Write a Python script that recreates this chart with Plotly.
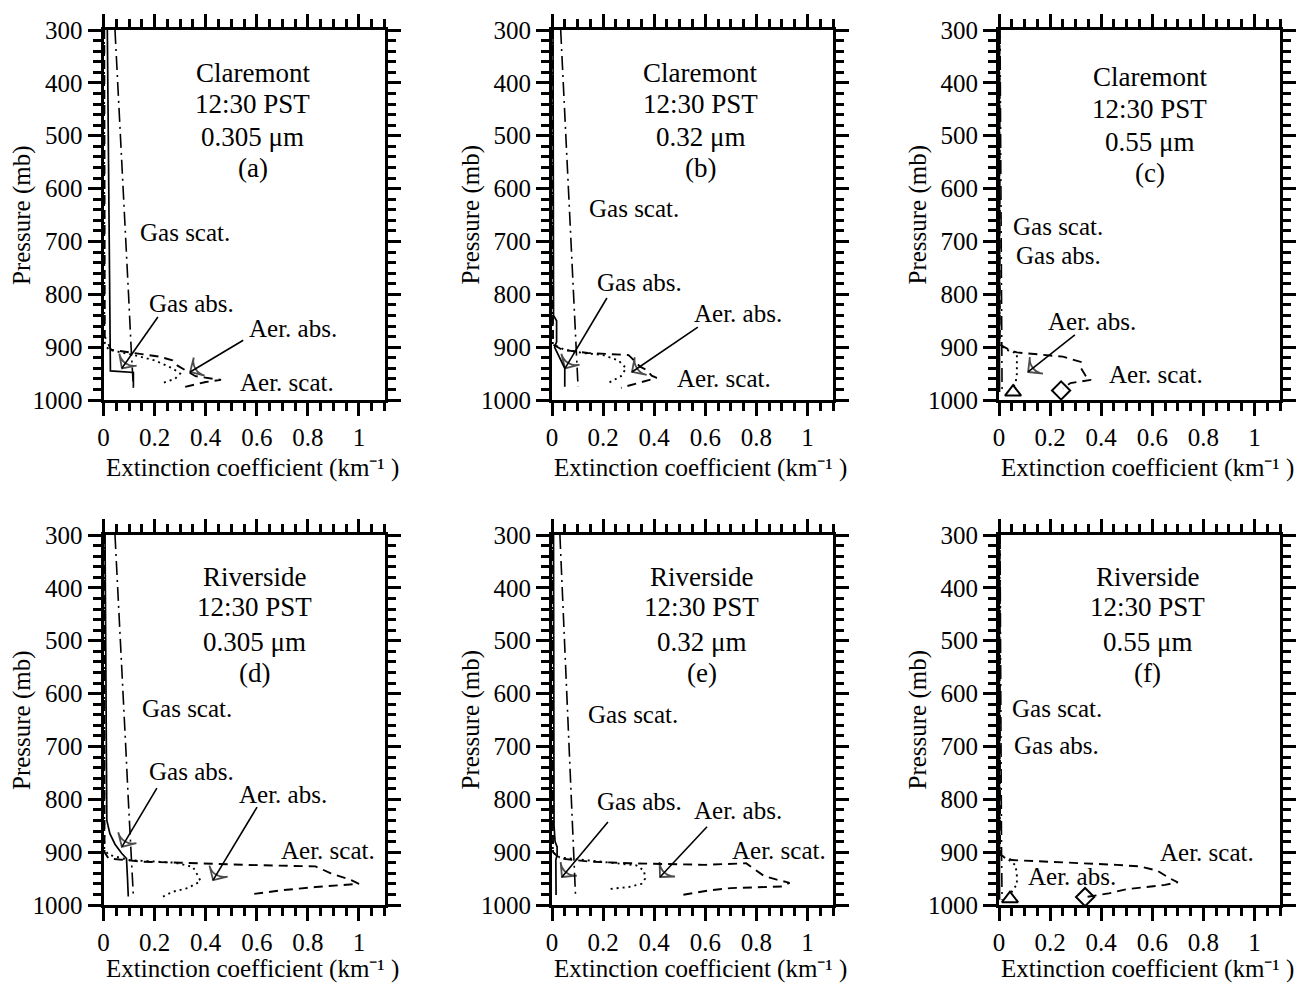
import plotly.graph_objects as go

# ---------------- data (extinction coefficient km^-1 vs pressure mb) ----------------
# Panel (a) Claremont 0.305 um
a_gscat_p = [300, 400, 500, 600, 700, 800, 900, 977]
a_gscat_x = [0.045, 0.056, 0.067, 0.077, 0.088, 0.098, 0.108, 0.117]
a_gabs_p = [300, 500, 700, 900, 945, 948, 975]
a_gabs_x = [0.015, 0.018, 0.021, 0.025, 0.027, 0.117, 0.117]
a_ascat_p = [300, 880, 905, 912, 918, 925, 935, 955, 962, 966, 975, 981]
a_ascat_x = [0.003, 0.005, 0.03, 0.13, 0.22, 0.27, 0.29, 0.36, 0.46, 0.40, 0.32, 0.30]
a_aabs_p = [300, 890, 905, 915, 925, 940, 950, 960, 968]
a_aabs_x = [0.002, 0.003, 0.02, 0.12, 0.2, 0.27, 0.30, 0.28, 0.23]

# Panel (b) Claremont 0.32 um
b_gscat_p = [300, 400, 500, 600, 700, 800, 900, 975]
b_gscat_x = [0.034, 0.044, 0.054, 0.064, 0.074, 0.084, 0.094, 0.102]
b_gabs_p = [300, 840, 850, 890, 900, 930, 940, 975]
b_gabs_x = [0.004, 0.006, 0.018, 0.018, 0.010, 0.040, 0.050, 0.050]
b_ascat_p = [300, 895, 905, 911, 915, 925, 937, 943, 954, 958, 965, 972, 977]
b_ascat_x = [0.003, 0.004, 0.04, 0.14, 0.30, 0.32, 0.345, 0.37, 0.39, 0.41, 0.36, 0.31, 0.27]
b_aabs_p = [300, 895, 905, 911, 915, 925, 940, 955, 968]
b_aabs_x = [0.002, 0.003, 0.05, 0.12, 0.20, 0.26, 0.29, 0.27, 0.22]

# Panel (c) Claremont 0.55 um
c_gscat_p = [300, 600, 900, 985]
c_gscat_x = [0.004, 0.007, 0.011, 0.012]
c_gabs_p = [300, 600, 900, 985]
c_gabs_x = [0.001, 0.0015, 0.002, 0.002]
c_ascat_p = [300, 895, 905, 910, 918, 928, 939, 955, 962, 968, 978]
c_ascat_x = [0.002, 0.003, 0.04, 0.07, 0.25, 0.32, 0.32, 0.34, 0.36, 0.28, 0.25]
c_aabs_p = [300, 895, 905, 912, 930, 950, 968, 980]
c_aabs_x = [0.001, 0.002, 0.03, 0.07, 0.07, 0.07, 0.065, 0.05]
c_meas_scat = (0.243, 982)
c_meas_abs = (0.055, 985)

# Panel (d) Riverside 0.305 um
d_gscat_p = [300, 400, 500, 600, 700, 800, 900, 984]
d_gscat_x = [0.045, 0.056, 0.066, 0.077, 0.087, 0.097, 0.108, 0.117]
d_gabs_p = [300, 500, 700, 800, 840, 865, 885, 902, 912, 950, 984]
d_gabs_x = [0.006, 0.008, 0.010, 0.011, 0.013, 0.025, 0.045, 0.071, 0.090, 0.094, 0.097]
d_ascat_p = [300, 900, 912, 918, 920, 924, 927, 940, 953, 960, 966, 972, 979]
d_ascat_x = [0.003, 0.004, 0.02, 0.15, 0.30, 0.55, 0.83, 0.89, 0.97, 1.0, 0.83, 0.70, 0.59]
d_aabs_p = [300, 895, 905, 915, 920, 928, 945, 955, 968, 975, 985]
d_aabs_x = [0.002, 0.003, 0.02, 0.10, 0.28, 0.35, 0.37, 0.38, 0.33, 0.27, 0.23]

# Panel (e) Riverside 0.32 um
e_gscat_p = [300, 400, 500, 600, 700, 800, 900, 981]
e_gscat_x = [0.031, 0.040, 0.049, 0.058, 0.068, 0.077, 0.086, 0.092]
e_gabs_p = [300, 600, 850, 880, 890, 905, 915, 981]
e_gabs_x = [0.006, 0.007, 0.008, 0.012, 0.020, 0.020, 0.015, 0.016]
e_ascat_p = [300, 900, 912, 918, 921, 924, 921, 935, 945, 952, 958, 965, 968, 972, 981]
e_ascat_x = [0.003, 0.004, 0.03, 0.15, 0.30, 0.60, 0.76, 0.80, 0.83, 0.88, 0.93, 0.90, 0.70, 0.62, 0.51]
e_aabs_p = [300, 900, 910, 918, 925, 935, 950, 960, 966, 970]
e_aabs_x = [0.002, 0.003, 0.03, 0.18, 0.33, 0.36, 0.365, 0.35, 0.30, 0.22]

# Panel (f) Riverside 0.55 um
f_gscat_p = [300, 600, 900, 990]
f_gscat_x = [0.004, 0.006, 0.010, 0.012]
f_gabs_p = [300, 600, 900, 990]
f_gabs_x = [0.001, 0.0015, 0.002, 0.002]
f_ascat_p = [300, 905, 915, 918, 920, 924, 927, 935, 950, 957, 962, 966, 970, 978, 985]
f_ascat_x = [0.003, 0.004, 0.05, 0.20, 0.32, 0.46, 0.55, 0.62, 0.67, 0.70, 0.65, 0.57, 0.50, 0.43, 0.34]
f_aabs_p = [300, 905, 915, 925, 945, 962, 970, 980]
f_aabs_x = [0.002, 0.003, 0.04, 0.065, 0.07, 0.07, 0.055, 0.045]
f_meas_scat = (0.337, 985)
f_meas_abs = (0.043, 988)

# tick values / labels
X_TICKS = [0, 0.2, 0.4, 0.6, 0.8, 1]
X_TICK_TEXT = ["0", "0.2", "0.4", "0.6", "0.8", "1"]
Y_TICKS = [300, 400, 500, 600, 700, 800, 900, 1000]
Y_TICK_TEXT = ["300", "400", "500", "600", "700", "800", "900", "1000"]
X_TITLE = "Extinction coefficient (km\u207b\u00b9 )"
Y_TITLE = "Pressure (mb)"

STATIONS = ["Claremont", "Claremont", "Claremont", "Riverside", "Riverside", "Riverside"]
TIMES = ["12:30 PST"] * 6
WAVES = ["0.305 μm", "0.32 μm", "0.55 μm", "0.305 μm", "0.32 μm", "0.55 μm"]
LETTERS = ["(a)", "(b)", "(c)", "(d)", "(e)", "(f)"]

panels = [
    dict(gs=(a_gscat_x, a_gscat_p), ga=(a_gabs_x, a_gabs_p), as_=(a_ascat_x, a_ascat_p), aa=(a_aabs_x, a_aabs_p), ms=None, ma=None),
    dict(gs=(b_gscat_x, b_gscat_p), ga=(b_gabs_x, b_gabs_p), as_=(b_ascat_x, b_ascat_p), aa=(b_aabs_x, b_aabs_p), ms=None, ma=None),
    dict(gs=(c_gscat_x, c_gscat_p), ga=(c_gabs_x, c_gabs_p), as_=(c_ascat_x, c_ascat_p), aa=(c_aabs_x, c_aabs_p), ms=c_meas_scat, ma=c_meas_abs),
    dict(gs=(d_gscat_x, d_gscat_p), ga=(d_gabs_x, d_gabs_p), as_=(d_ascat_x, d_ascat_p), aa=(d_aabs_x, d_aabs_p), ms=None, ma=None),
    dict(gs=(e_gscat_x, e_gscat_p), ga=(e_gabs_x, e_gabs_p), as_=(e_ascat_x, e_ascat_p), aa=(e_aabs_x, e_aabs_p), ms=None, ma=None),
    dict(gs=(f_gscat_x, f_gscat_p), ga=(f_gabs_x, f_gabs_p), as_=(f_ascat_x, f_ascat_p), aa=(f_aabs_x, f_aabs_p), ms=f_meas_scat, ma=f_meas_abs),
]

# ---------------- layout / styling ----------------
W, H = 1313, 984
FONT = "Liberation Serif"
COL_LEFT = [103.5, 552, 999]
PLOT_W = 281
ROW_TOP = [30, 535]
PLOT_H = 370
XTITLE_Y = [468, 969]

info_pos = [
    (0.585, [381, 440, 502, 561]),
    (0.58, [381, 440, 502, 561]),
    (0.59, [389, 449, 512, 571]),
    (0.59, [379, 436, 502, 561]),
    (0.587, [379, 436, 502, 561]),
    (0.583, [379, 436, 502, 561]),
]
labels = [
    [("Gas scat.", 0.32, 684), ("Gas abs.", 0.346, 817), ("Aer. abs.", 0.742, 864), ("Aer. scat.", 0.718, 966)],
    [("Gas scat.", 0.321, 637), ("Gas abs.", 0.344, 777), ("Aer. abs.", 0.728, 837), ("Aer. scat.", 0.673, 960)],
    [("Gas scat.", 0.231, 671), ("Gas abs.", 0.231, 726), ("Aer. abs.", 0.364, 851), ("Aer. scat.", 0.614, 951)],
    [("Gas scat.", 0.327, 629), ("Gas abs.", 0.346, 748), ("Aer. abs.", 0.703, 790), ("Aer. scat.", 0.879, 896)],
    [("Gas scat.", 0.317, 639), ("Gas abs.", 0.341, 805), ("Aer. abs.", 0.728, 822), ("Aer. scat.", 0.888, 896)],
    [("Gas scat.", 0.227, 629), ("Gas abs.", 0.227, 699), ("Aer. scat.", 0.814, 900), ("Aer. abs.", 0.286, 947)],
]
# arrows: (tail x, tail p, head x, head p)
arrows = [
    [(0.213, 843, 0.072, 940), (0.547, 887, 0.339, 947)],
    [(0.215, 807, 0.051, 940), (0.571, 862, 0.313, 947)],
    [(0.297, 877, 0.114, 947)],
    [(0.209, 779, 0.072, 890), (0.601, 815, 0.429, 953)],
    [(0.219, 843, 0.039, 947), (0.607, 852, 0.423, 947)],
    [],
]

styles = {
    "gs": dict(color="black", width=1.6, dash="14px,5px,2px,5px"),
    "ga": dict(color="black", width=1.7),
    "as_": dict(color="black", width=1.9, dash="9px,6px"),
    "aa": dict(color="black", width=1.9, dash="2px,4px"),
}

TICK_FONT = dict(family=FONT, size=25, color="black")
INFO_FONT = dict(family=FONT, size=27, color="black")
LABEL_FONT = dict(family=FONT, size=25, color="black")
TITLE_FONT = dict(family=FONT, size=25, color="black")

fig = go.Figure()
annotations = []
layout_axes = {}

for i, pn in enumerate(panels):
    r, c = divmod(i, 3)
    sfx = "" if i == 0 else str(i + 1)
    xa, ya = "x" + sfx, "y" + sfx
    for key in ["gs", "ga", "as_", "aa"]:
        xs, ps = pn[key]
        fig.add_trace(go.Scatter(x=xs, y=ps, mode="lines", line=styles[key],
                                 xaxis=xa, yaxis=ya, showlegend=False, hoverinfo="skip"))
    if pn["ms"] is not None:
        fig.add_trace(go.Scatter(x=[pn["ms"][0]], y=[pn["ms"][1]], mode="markers",
                                 marker=dict(symbol="diamond-open", size=14, color="black", line=dict(width=2)),
                                 xaxis=xa, yaxis=ya, showlegend=False, hoverinfo="skip"))
        fig.add_trace(go.Scatter(x=[pn["ma"][0]], y=[pn["ma"][1]], mode="markers",
                                 marker=dict(symbol="triangle-up-open", size=14, color="black", line=dict(width=2)),
                                 xaxis=xa, yaxis=ya, showlegend=False, hoverinfo="skip"))
    for tx, tp, hx, hp in arrows[i]:
        fig.add_trace(go.Scatter(x=[tx, hx], y=[tp, hp], mode="lines+markers",
                                 line=dict(color="black", width=1.6),
                                 marker=dict(symbol=["circle", "arrow-wide-open"], size=[0, 15],
                                             angleref="previous", color="black",
                                             line=dict(color="black", width=1.8)),
                                 xaxis=xa, yaxis=ya, showlegend=False, hoverinfo="skip"))

    x0 = COL_LEFT[c] / W
    x1 = (COL_LEFT[c] + PLOT_W) / W
    y1 = 1 - ROW_TOP[r] / H
    y0 = 1 - (ROW_TOP[r] + PLOT_H) / H
    common = dict(showline=True, linewidth=3, linecolor="black", mirror="allticks",
                  ticks="outside", ticklen=13, tickwidth=2.5, tickcolor="black",
                  showgrid=False, zeroline=False, fixedrange=True, automargin=False,
                  tickfont=TICK_FONT)
    layout_axes["xaxis" + sfx] = dict(common, domain=[x0, x1], anchor=ya, range=[0, 1.1],
                                      tickmode="array", tickvals=X_TICKS, ticktext=X_TICK_TEXT,
                                      ticklabelstandoff=0,
                                      minor=dict(tickmode="linear", tick0=0, dtick=0.05, ticks="outside",
                                                 ticklen=8, tickwidth=2.5, tickcolor="black", showgrid=False))
    layout_axes["yaxis" + sfx] = dict(common, domain=[y0, y1], anchor=xa, range=[1000, 300],
                                      tickmode="array", tickvals=Y_TICKS, ticktext=Y_TICK_TEXT,
                                      ticklabelstandoff=0,
                                      minor=dict(tickmode="linear", tick0=300, dtick=20, ticks="outside",
                                                 ticklen=8, tickwidth=2.5, tickcolor="black", showgrid=False))

    ix, ips = info_pos[i]
    for txt, pp in zip([STATIONS[i], TIMES[i], WAVES[i], LETTERS[i]], ips):
        annotations.append(dict(text=txt, x=ix, y=pp, xref=xa, yref=ya, showarrow=False,
                                xanchor="center", yanchor="middle", font=INFO_FONT))
    for txt, lx, lp in labels[i]:
        annotations.append(dict(text=txt, x=lx, y=lp, xref=xa, yref=ya, showarrow=False,
                                xanchor="center", yanchor="middle", font=LABEL_FONT))

    # axis titles (placed in paper coordinates)
    annotations.append(dict(text=X_TITLE, x=(COL_LEFT[c] + PLOT_W / 2 + 8) / W,
                            y=1 - XTITLE_Y[r] / H, xref="paper", yref="paper",
                            showarrow=False, xanchor="center", yanchor="middle", font=TITLE_FONT))
    annotations.append(dict(text=Y_TITLE, x=(COL_LEFT[c] - 81.5) / W,
                            y=1 - (ROW_TOP[r] + PLOT_H / 2) / H, xref="paper", yref="paper",
                            showarrow=False, textangle=-90, xanchor="center", yanchor="middle",
                            font=TITLE_FONT))

fig.update_layout(width=W, height=H, margin=dict(l=0, r=0, t=0, b=0, autoexpand=False),
                  paper_bgcolor="white", plot_bgcolor="white",
                  annotations=annotations, **layout_axes)

fig.write_html("out.html", config={"displayModeBar": False},
               post_script="document.body.style.margin='0px';")
